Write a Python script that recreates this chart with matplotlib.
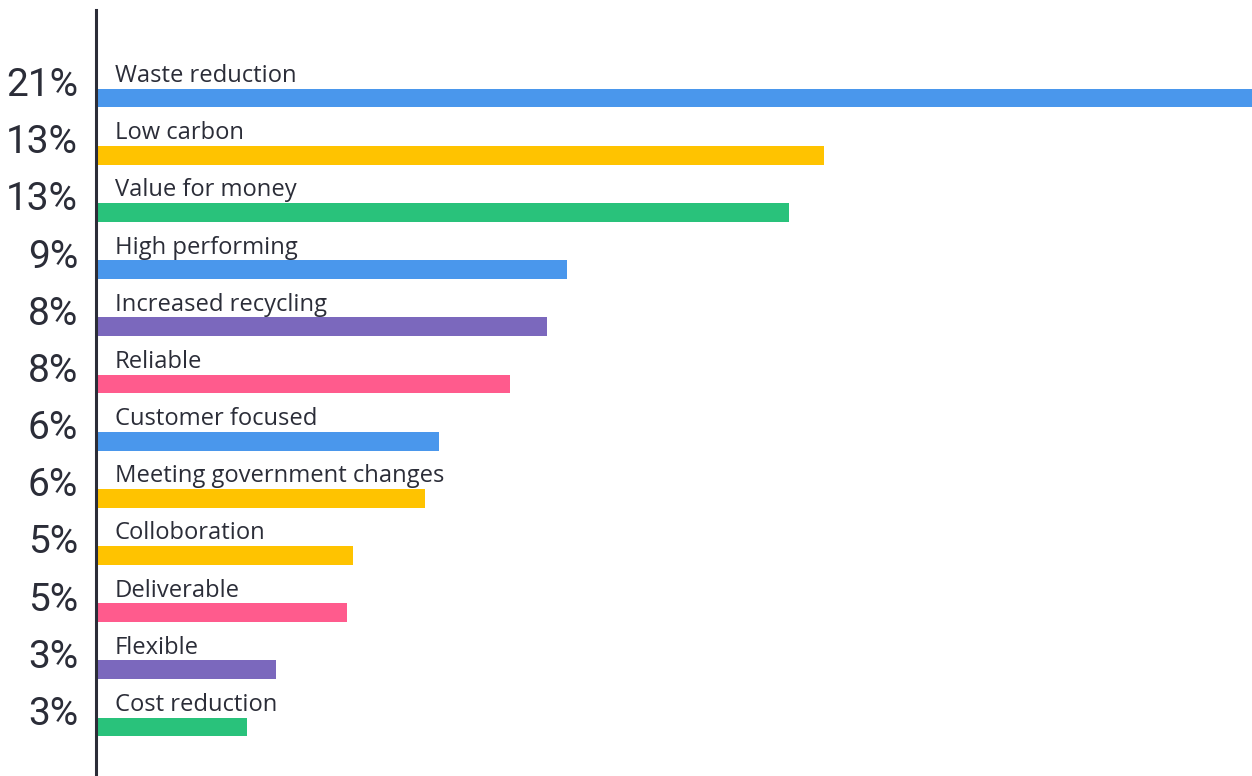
import matplotlib
matplotlib.use("Agg")
import matplotlib.pyplot as plt

# Share of responses per attribute (percent)
categories = [
    "Waste reduction", "Low carbon", "Value for money", "High performing",
    "Increased recycling", "Reliable", "Customer focused",
    "Meeting government changes", "Colloboration", "Deliverable",
    "Flexible", "Cost reduction",
]
values = [21.0, 13.22, 12.59, 8.56, 8.19, 7.52, 6.23, 5.98, 4.67, 4.56, 3.27, 2.74]
bar_colors = [
    "#4a97ec", "#ffc300", "#29c27b", "#4a97ec", "#7b68bd", "#ff5b8d",
    "#4a97ec", "#ffc300", "#ffc300", "#ff5b8d", "#7b68bd", "#29c27b",
]

TEXT = "#2b2d38"
plt.rcParams["font.family"] = ["Roboto", "DejaVu Sans"]

W, H = 1252, 776
fig = plt.figure(figsize=(W / 100, H / 100), dpi=100)
ax = fig.add_axes([96 / W, 0.0, 1 - 96 / W, 1 - 10 / H])

n = len(categories)
ypos = list(range(n))
ax.barh(ypos, values, height=0.33, color=bar_colors, zorder=2)

ax.set_xlim(0, 21.0)
ax.set_ylim(n - 1 + 0.857, -1.54)

for i, (cat, v) in enumerate(zip(categories, values)):
    ax.annotate(cat, xy=(0, i), xytext=(19, 16), textcoords="offset pixels",
                ha="left", va="baseline", fontsize=17.1, color=TEXT,
                family=["Open Sans", "DejaVu Sans"])
    ax.annotate(f"{round(v):d}%", xy=(0, i), xytext=(-18, 2),
                textcoords="offset pixels", ha="right", va="baseline",
                fontsize=28, color=TEXT, annotation_clip=False)

for side in ("top", "right", "bottom"):
    ax.spines[side].set_visible(False)
ax.spines["left"].set_color(TEXT)
ax.spines["left"].set_linewidth(2.2)
ax.set_xticks([])
ax.set_yticks([])
ax.patch.set_alpha(0)

fig.savefig("out.png", dpi=100, facecolor="white")
